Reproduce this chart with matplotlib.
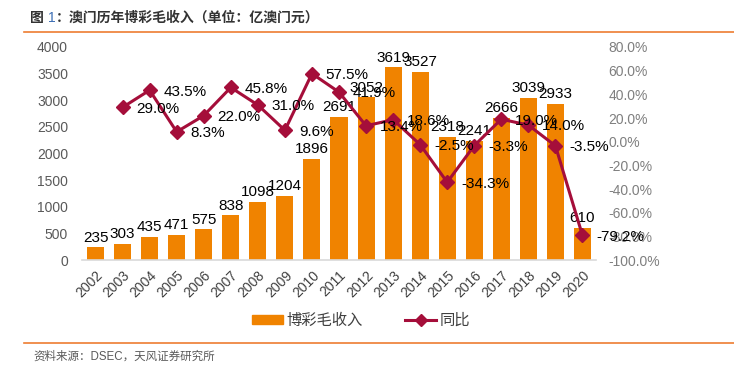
import matplotlib
matplotlib.use("Agg")
import matplotlib.pyplot as plt
from matplotlib.patches import Patch
from matplotlib.lines import Line2D

plt.rcParams['font.family'] = ['Liberation Sans', 'Noto Sans CJK SC', 'DejaVu Sans']

# 数据
years = [str(y) for y in range(2002, 2021)]
revenue = [235, 303, 435, 471, 575, 838, 1098, 1204, 1896, 2691,
           3052, 3619, 3527, 2318, 2241, 2666, 3039, 2933, 610]
yoy_years = years[1:]
yoy = [29.0, 43.5, 8.3, 22.0, 45.8, 31.0, 9.6, 57.5, 41.9, 13.4,
       18.6, -2.5, -34.3, -3.3, 19.0, 14.0, -3.5, -79.2]

bar_color = '#F08300'
line_color = '#A50E3A'
tick_color = '#595959'

fig = plt.figure(figsize=(7.34, 3.81), dpi=100)
ax = fig.add_axes([82/734, 1 - 260/381, (596 - 82)/734, (260 - 47)/381])
ax2 = ax.twinx()

x = list(range(len(years)))
bars = ax.bar(x, revenue, width=0.63, color=bar_color, zorder=2)
for xi, v in zip(x, revenue):
    ax.annotate(str(v), (xi, v), xytext=(0, 2), textcoords='offset points',
                ha='center', va='bottom', fontsize=11, color='black')

ax.set_xlim(-0.5, len(years) - 0.5)
ax.set_ylim(0, 4000)
ax.set_yticks(range(0, 4001, 500))
ax.set_xticks(x)
ax.set_xticklabels(years, rotation=45, ha='right', va='top', rotation_mode='anchor',
                   fontsize=10, color='#404040')
ax.tick_params(axis='x', length=0, pad=6)
ax.tick_params(axis='y', length=0, pad=10, labelsize=10, labelcolor=tick_color)
for s in ['top', 'right', 'left']:
    ax.spines[s].set_visible(False)
ax.spines['bottom'].set_color('#D9D9D9')
ax.spines['bottom'].set_linewidth(1.2)

xl = list(range(1, len(years)))
ax2.plot(xl, yoy, color=line_color, lw=2.2, marker='D', markersize=7, zorder=3)
for xi, v in zip(xl, yoy):
    ax2.annotate(f'{v:.1f}%', (xi, v), xytext=(10, -1), textcoords='offset points',
                 ha='left', va='center', fontsize=11, color='black')
ax2.set_ylim(-100, 80)
ax2.set_yticks(range(-100, 81, 20))
ax2.set_yticklabels([f'{t:.1f}%' for t in range(-100, 81, 20)])
ax2.tick_params(axis='y', length=0, pad=9, labelsize=10, labelcolor='#7F7F7F')
for s in ax2.spines.values():
    s.set_visible(False)

# 图例
handles = [Patch(color=bar_color),
           Line2D([0], [0], color=line_color, lw=2.2, marker='D', markersize=6)]
fig.legend(handles, ['博彩毛收入', '同比'], loc='center', bbox_to_anchor=(0.492, 1 - 321/381),
           ncol=2, frameon=False, fontsize=11, handlelength=2.0, handleheight=0.55,
           columnspacing=2.8, handletextpad=0.25, labelcolor='#404040')

# 标题与来源
t1 = fig.text(30/734, 1 - 18/381, '图 ', fontsize=10, fontweight='bold', color='#333333',
              va='center', ha='left')
t2 = fig.text(0, 0, '1', fontsize=10, color='#3C6EB4', va='center', ha='left')
t3 = fig.text(0, 0, '：澳门历年博彩毛收入（单位：亿澳门元）', fontsize=10, fontweight='bold',
              color='#333333', va='center', ha='left')
fig.canvas.draw()
r = fig.canvas.get_renderer()
bb1 = t1.get_window_extent(r)
t2.set_position((bb1.x1 / fig.bbox.width, 1 - 18/381))
bb2 = t2.get_window_extent(r)
t3.set_position((bb2.x1 / fig.bbox.width, 1 - 18/381))

fig.add_artist(Line2D([24/734, 1], [1 - 32/381] * 2, color='#ED7D31', lw=1.2))
fig.add_artist(Line2D([24/734, 1], [1 - 343/381] * 2, color='#ED7D31', lw=1.2))
fig.text(33/734, 1 - 357/381, '资料来源：DSEC，天风证券研究所', fontsize=8.3, color='#595959',
         va='center', ha='left')

fig.savefig('out.png', dpi=100)
